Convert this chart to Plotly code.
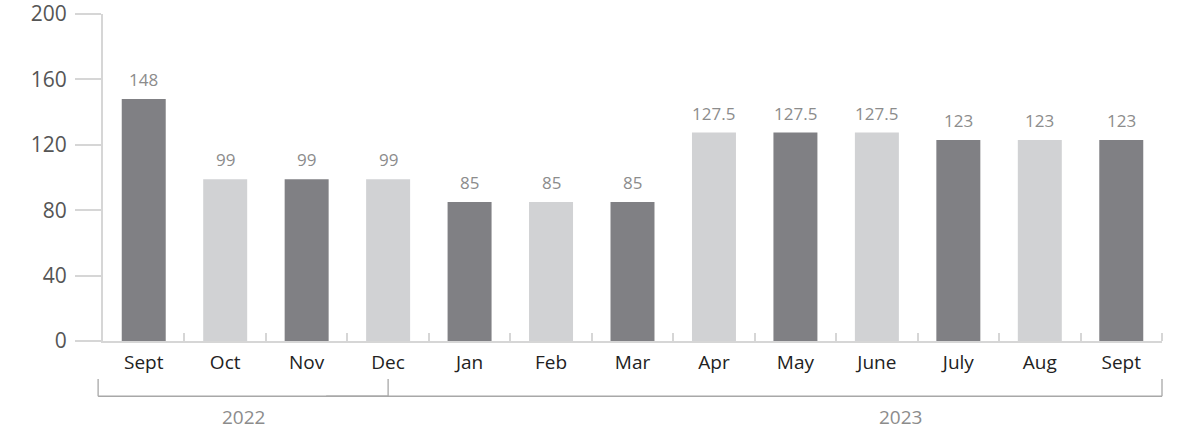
import plotly.graph_objects as go

months = ["Sept", "Oct", "Nov", "Dec", "Jan", "Feb", "Mar", "Apr", "May", "June", "July", "Aug", "Sept"]
values = [148, 99, 99, 99, 85, 85, 85, 127.5, 127.5, 127.5, 123, 123, 123]
value_labels = ["148", "99", "99", "99", "85", "85", "85", "127.5", "127.5", "127.5", "123", "123", "123"]
years = ["2022", "2023"]
year_spans = [(-0.56, 3.0), (2.24, 12.5)]
year_label_pos = [1.22, 9.29]
y_ticks = [0, 40, 80, 120, 160, 200]

DARK = "#808084"
LIGHT = "#d1d2d4"
AXIS = "#d6d6d6"
BRACKET = "#a8a8a8"
FONT = "Open Sans"

xs = list(range(len(months)))
boundaries = [i + 0.5 for i in xs]
colors = [DARK if i % 2 == 0 else LIGHT for i in xs]
X_RANGE = [-0.5, len(months) - 0.5]


def to_paper(xv):
    return (xv - X_RANGE[0]) / (X_RANGE[1] - X_RANGE[0])


fig = go.Figure()
fig.add_trace(go.Bar(
    x=xs, y=values, marker=dict(color=colors, line=dict(width=0)),
    width=0.54, hoverinfo="skip", showlegend=False,
))

for i, (v, lab) in enumerate(zip(values, value_labels)):
    fig.add_annotation(x=i, y=v, text=lab, showarrow=False, yanchor="bottom",
                       yshift=6, font=dict(family=FONT, size=17, color="#8c8c8c"))

# year brackets
for (x0, x1), yr, lx in zip(year_spans, years, year_label_pos):
    fig.add_shape(type="line", xref="paper", yref="paper", x0=to_paper(x0), x1=to_paper(x1),
                  y0=-0.169, y1=-0.169, line=dict(color=BRACKET, width=1.3))
    fig.add_annotation(x=lx, xref="x", y=-0.232, yref="paper", yanchor="middle",
                       text=yr, showarrow=False,
                       font=dict(family=FONT, size=19, color="#8c8c8c"))
for xv in (year_spans[0][0], year_spans[0][1], year_spans[1][1]):
    fig.add_shape(type="line", xref="paper", yref="paper", x0=to_paper(xv), x1=to_paper(xv),
                  y0=-0.116, y1=-0.169, line=dict(color=BRACKET, width=1.3))

fig.update_layout(
    width=1183, height=430,
    margin=dict(l=103, r=21, t=14, b=89),
    paper_bgcolor="white", plot_bgcolor="white",
    font=dict(family=FONT),
)
fig.update_xaxes(
    range=X_RANGE, tickmode="array", tickvals=xs, ticktext=months,
    showgrid=False, zeroline=False, automargin=False,
    showline=True, linecolor=AXIS, linewidth=2,
    ticks="",
    minor=dict(tickmode="array", tickvals=boundaries, ticks="inside", ticklen=8,
               tickcolor=AXIS, tickwidth=2, showgrid=False),
    tickfont=dict(family=FONT, size=19, color="#222222"),
    ticklabelstandoff=3, ticklabeloverflow="allow",
)
fig.update_yaxes(
    range=[0, 200], tickvals=y_ticks, showgrid=False, zeroline=False, automargin=False,
    showline=True, linecolor=AXIS, linewidth=2,
    ticks="outside", ticklen=26, tickcolor=AXIS, tickwidth=2,
    tickfont=dict(family=FONT, size=21, color="#555555"),
    ticklabelstandoff=4, ticklabeloverflow="allow",
)

fig.write_html("out.html", config={"displayModeBar": False},
               post_script="document.body.style.margin='0';document.body.style.overflow='hidden';")
